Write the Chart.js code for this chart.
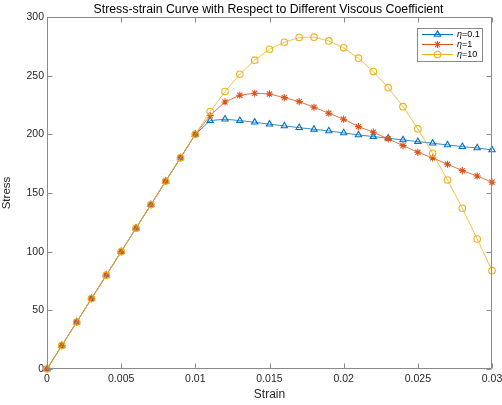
<!DOCTYPE html>
<html><head><meta charset="utf-8">
<script src="https://cdn.jsdelivr.net/npm/chart.js@4/dist/chart.umd.min.js"></script>
<style>html,body{margin:0;padding:0;background:#fff}#wrap{width:502px;height:405px;position:relative}</style>
</head><body><div id="wrap"><canvas id="c" width="502" height="405"></canvas></div>
<script>
const strain = [0, 0.001, 0.002, 0.003, 0.004, 0.005, 0.006, 0.007, 0.008, 0.009, 0.010,
  0.011, 0.012, 0.013, 0.014, 0.015, 0.016, 0.017, 0.018, 0.019, 0.020,
  0.021, 0.022, 0.023, 0.024, 0.025, 0.026, 0.027, 0.028, 0.029, 0.030];
const stressEta01 = [0, 20, 40, 60, 80, 100, 120, 140, 160, 180, 200,
  211.7, 212.9, 211.7, 210.3, 208.6, 207.2, 205.7, 204.3, 202.9, 201.2,
  199.5, 198.1, 196.7, 195.2, 193.8, 192.4, 191.0, 189.5, 188.4, 186.7];
const stressEta1 = [0, 20, 40, 60, 80, 100, 120, 140, 160, 180, 200,
  216.0, 227.6, 233.3, 235.0, 234.4, 231.3, 227.9, 223.1, 218.0, 212.9,
  206.6, 201.8, 196.1, 190.4, 184.7, 179.9, 174.5, 169.1, 164.5, 159.2];
const stressEta10 = [0, 20, 40, 60, 80, 100, 120, 140, 160, 180, 200,
  219.4, 236.4, 251.2, 263.2, 272.5, 278.5, 282.5, 282.8, 279.6, 273.7,
  264.9, 253.5, 239.8, 223.6, 204.6, 183.8, 161.1, 137.0, 110.8, 83.8];
const seriesLabels = ['η=0.1', 'η=1', 'η=10'];
const xTickLabels = ['0', '0.005', '0.01', '0.015', '0.02', '0.025', '0.03'];
const yTickLabels = ['0', '50', '100', '150', '200', '250', '300'];
const chartTitle = 'Stress-strain Curve with Respect to Different Viscous Coefficient';
const xTitle = 'Strain';
const yTitle = 'Stress';

const FONT = '"Liberation Sans", Arial, Helvetica, sans-serif';
const AX = '#262626';
const BOX = '#8a8a8a';
const colors = ['#0072BD', '#D95319', '#EDB120'];
const styles = ['triangle', 'star', 'circle'];
const radii = [3.6, 3.6, 3.3];

function mk(i, vals) {
  return {
    label: seriesLabels[i],
    data: strain.map((x, k) => ({x: x, y: vals[k]})),
    borderColor: colors[i],
    backgroundColor: 'rgba(0,0,0,0)',
    borderWidth: 0.8,
    pointStyle: styles[i],
    pointRadius: radii[i],
    pointBorderWidth: 1.1,
    pointBorderColor: colors[i],
    pointBackgroundColor: 'rgba(0,0,0,0)',
    tension: 0,
    clip: false,
    order: 2 - i
  };
}

const boxPlugin = {
  id: 'matlabBox',
  afterDraw(chart) {
    const ctx = chart.ctx;
    const a = chart.chartArea;
    const xs = chart.scales.x, ys = chart.scales.y;
    ctx.save();
    ctx.strokeStyle = BOX;
    ctx.lineWidth = 1;
    const L = Math.round(a.left) + 0.5, R = Math.round(a.right) - 0.5;
    const T = Math.round(a.top) + 0.5, B = Math.round(a.bottom) - 0.5;
    ctx.beginPath();
    ctx.rect(L, T, R - L, B - T);
    ctx.stroke();
    const tl = 5;
    ctx.beginPath();
    xs.ticks.forEach(t => {
      const px = Math.round(xs.getPixelForValue(t.value)) + 0.5;
      ctx.moveTo(px, B); ctx.lineTo(px, B - tl);
      ctx.moveTo(px, T); ctx.lineTo(px, T + tl);
    });
    ys.ticks.forEach(t => {
      const py = Math.round(ys.getPixelForValue(t.value)) + 0.5;
      ctx.moveTo(L, py); ctx.lineTo(L + tl, py);
      ctx.moveTo(R, py); ctx.lineTo(R - tl, py);
    });
    ctx.stroke();

    // title
    ctx.fillStyle = '#000';
    ctx.font = '12.3px ' + FONT;
    ctx.textAlign = 'center';
    ctx.textBaseline = 'middle';
    ctx.fillText(chartTitle, (a.left + a.right) / 2 - 1, 9.5);

    // legend
    const bx = 417.5, by = 28.5, bw = 65, bh = 33;
    ctx.fillStyle = '#fff';
    ctx.fillRect(bx, by, bw, bh);
    ctx.strokeStyle = BOX;
    ctx.strokeRect(bx, by, bw, bh);
    chart.data.datasets.forEach((ds, i) => {
      const y = 34.5 + i * 10;
      ctx.strokeStyle = ds.borderColor;
      ctx.lineWidth = 1;
      ctx.beginPath(); ctx.moveTo(422, y); ctx.lineTo(453, y); ctx.stroke();
      ctx.fillStyle = 'rgba(0,0,0,0)';
      ctx.strokeStyle = ds.borderColor;
      ctx.lineWidth = ds.pointBorderWidth;
      Chart.helpers.drawPoint(ctx, {pointStyle: ds.pointStyle, radius: ds.pointRadius, rotation: 0, borderWidth: ds.pointBorderWidth}, 437.5, y);
      ctx.fillStyle = '#000';
      ctx.textAlign = 'left';
      ctx.textBaseline = 'middle';
      const eta = ds.label.charAt(0), rest = ds.label.slice(1);
      ctx.font = 'italic 9px ' + FONT;
      ctx.fillText(eta, 457, y);
      const w = ctx.measureText(eta).width;
      ctx.font = '9px ' + FONT;
      ctx.fillText(rest, 457 + w, y);
    });
    ctx.restore();
  }
};

new Chart(document.getElementById('c'), {
  type: 'line',
  data: { datasets: [mk(0, stressEta01), mk(1, stressEta1), mk(2, stressEta10)] },
  options: {
    responsive: false,
    animation: false,
    devicePixelRatio: 1,
    layout: { padding: { left: 0, right: 10, top: 17, bottom: 0 } },
    plugins: { legend: { display: false }, title: { display: false }, tooltip: { enabled: false } },
    scales: {
      x: {
        type: 'linear', min: 0, max: 0.03,
        grid: { display: false, drawTicks: false },
        border: { display: false },
        ticks: { stepSize: 0.005, padding: 4, color: AX, font: { family: FONT, size: 10.5 },
          maxRotation: 0, autoSkip: false, callback: (v, i) => xTickLabels[i] },
        title: { display: true, text: xTitle, color: AX, font: { family: FONT, size: 12 }, padding: { top: 0, bottom: 3 } },
        afterFit(s) { s.height = 36; s.paddingLeft = 0; s.paddingRight = 0; }
      },
      y: {
        type: 'linear', min: 0, max: 300,
        grid: { display: false, drawTicks: false },
        border: { display: false },
        ticks: { stepSize: 50, padding: 3, color: AX, font: { family: FONT, size: 10.5 },
          autoSkip: false, callback: (v, i) => yTickLabels[i] },
        title: { display: true, text: yTitle, color: AX, font: { family: FONT, size: 11.5 }, padding: { top: 0, bottom: 0 } },
        afterFit(s) { s.width = 47; s.paddingTop = 0; s.paddingBottom = 0; }
      }
    }
  },
  plugins: [boxPlugin]
});
</script>
</body></html>
